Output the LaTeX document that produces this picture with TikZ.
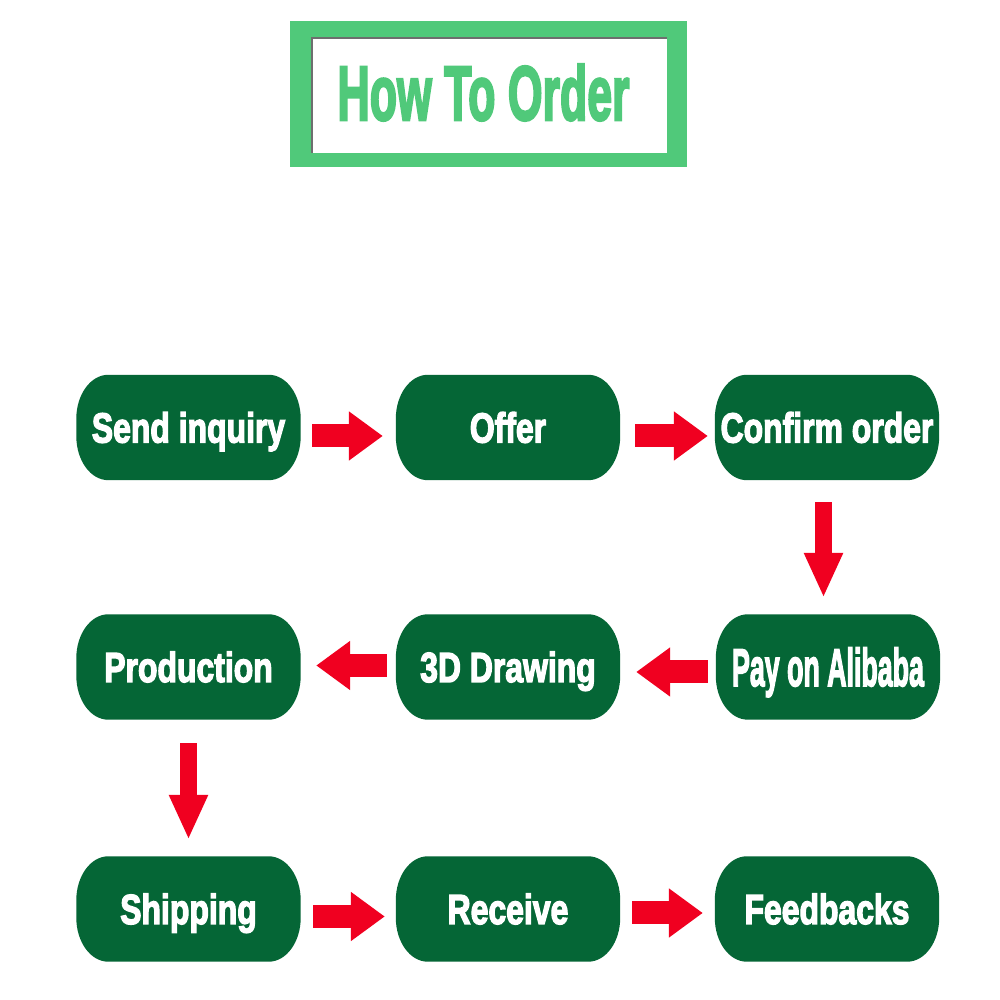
\documentclass[tikz,border=0pt]{standalone}
\usepackage{graphicx}
\usepackage{fontspec}
\setmainfont{Liberation Sans}
\newfontfamily\heavyfont{Liberation Sans}[BoldFeatures={FakeBold=3.5}]
\usetikzlibrary{arrows.meta,calc,backgrounds}
\definecolor{dkgreen}{RGB}{5,102,54}
\definecolor{tgreen}{RGB}{80,201,122}
\definecolor{arrowred}{RGB}{240,0,32}
\definecolor{shadowgray}{RGB}{110,110,110}
\newcommand\nx[1]{\scalebox{0.76}[1]{#1}}
\newcommand\pillfill[1]{%
  \fill[dkgreen] ($(#1.south west)+(32,0)$) -- ($(#1.south east)+(-32,0)$)
    arc[start angle=-90,end angle=0,x radius=32,y radius=44]
    -- ($(#1.north east)+(0,-44)$)
    arc[start angle=0,end angle=90,x radius=32,y radius=44]
    -- ($(#1.north west)+(32,0)$)
    arc[start angle=90,end angle=180,x radius=32,y radius=44]
    -- ($(#1.south west)+(0,44)$)
    arc[start angle=180,end angle=270,x radius=32,y radius=44] -- cycle;}
\tikzset{
  stepbox/.style={minimum width=224pt, minimum height=105pt, inner sep=0pt,
    text=white, font=\heavyfont\bfseries\fontsize{42pt}{42pt}\selectfont,
    text height=30pt, text depth=0pt},
  flowh/.style={draw=arrowred, line width=23pt, -{Triangle[width=47pt,length=34pt]}},
  flowv/.style={draw=arrowred, line width=17pt, -{Triangle[width=36pt,length=45pt]}}
}
\begin{document}
\begin{tikzpicture}[x=1pt,y=1pt]
\useasboundingbox (0,0) rectangle (1000,1000);
% title frame
\fill[tgreen] (290,833) rectangle (687,979);
\fill[white] (311,847) rectangle (667,963);
\draw[shadowgray, line width=2pt] (312,847) -- (312,962) -- (667,962);
\node[text=tgreen, inner sep=0pt, font=\heavyfont\bfseries\fontsize{77pt}{77pt}\selectfont,
  text height=55pt, text depth=0pt] (title) at (483.5,907.5) {\scalebox{0.58}[1]{How To Order}};
% steps
\node[stepbox] (send) at (188.5,572.5) {\nx{Send inquiry}};
\node[stepbox] (offer) at (508,572.5) {\nx{Offer}};
\node[stepbox] (confirm) at (827,572.5) {\nx{Confirm order}};
\node[stepbox] (production) at (188.5,333) {\nx{Production}};
\node[stepbox] (drawing) at (508,333) {\nx{3D Drawing}};
\node[stepbox, font=\heavyfont\bfseries\fontsize{53pt}{53pt}\selectfont, text height=38pt] (pay) at (828,333) {\scalebox{0.505}[1]{Pay on Alibaba}};
\node[stepbox] (shipping) at (188.5,91) {\nx{Shipping}};
\node[stepbox] (receive) at (508,91) {\nx{Receive}};
\node[stepbox] (feedbacks) at (827,91) {\nx{Feedbacks}};
% connectors
\draw[flowh] ($(send.east)+(11.5,-8.5)$) -- ($(offer.west)+(-13,-8.5)$);
\draw[flowh] ($(offer.east)+(15,-8.5)$) -- ($(confirm.west)+(-7,-8.5)$);
\draw[flowv] ($(confirm.south)+(-3.5,-22)$) -- ($(pay.north)+(-4.5,16.5)$);
\draw[flowh] ($(pay.west)+(-8,-5)$) -- ($(drawing.east)+(16,-5)$);
\draw[flowh] ($(drawing.west)+(-9,1.5)$) -- ($(production.east)+(15.5,1.5)$);
\draw[flowv] ($(production.south)+(0,-23.5)$) -- ($(shipping.north)+(0,16.5)$);
\draw[flowh] ($(shipping.east)+(12.5,-7.5)$) -- ($(receive.west)+(-11,-7.5)$);
\draw[flowh] ($(receive.east)+(12,-4)$) -- ($(feedbacks.west)+(-12,-4)$);
\begin{scope}[on background layer]
\fill[white] (0,0) rectangle (1000,1000);
\pillfill{send}\pillfill{offer}\pillfill{confirm}
\pillfill{production}\pillfill{drawing}\pillfill{pay}
\pillfill{shipping}\pillfill{receive}\pillfill{feedbacks}
\end{scope}
\end{tikzpicture}
\end{document}
